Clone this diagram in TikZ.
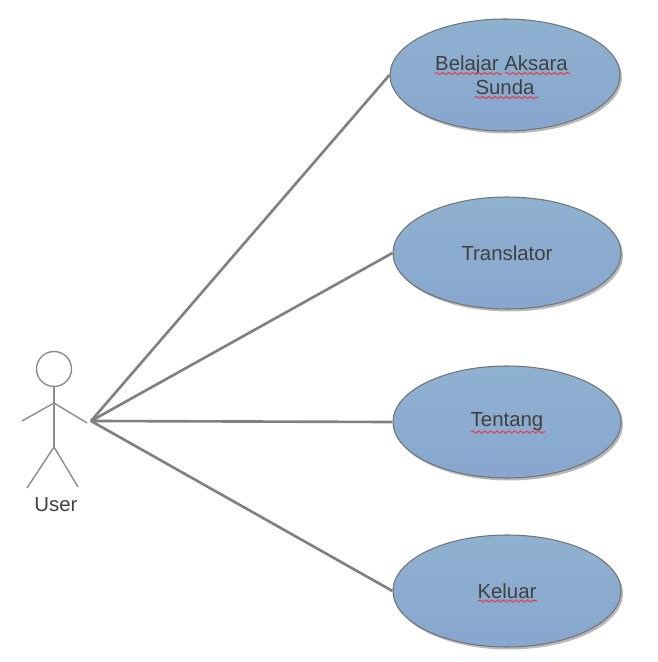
\documentclass[tikz,border=0pt]{standalone}
\usepackage{fontspec}
\setmainfont{Liberation Sans}
\usetikzlibrary{shapes.geometric,shadows,decorations.pathmorphing}
\definecolor{casetop}{HTML}{8FB1D0}
\definecolor{casebot}{HTML}{88A6CE}
\definecolor{spellred}{HTML}{E0404F}
\tikzset{
    usecase/.style={ellipse,draw=black!55,semithick,top color=casetop,bottom color=casebot,
        minimum width=4.6cm,minimum height=2.24cm,inner sep=0pt,align=center,text=black!75,
        font=\fontsize{11.6}{13.5}\selectfont,drop shadow={opacity=0.55,shadow xshift=0.04cm,shadow yshift=-0.05cm}},
    actorline/.style={draw=black!45,line width=0.8pt},
    assoc/.style={draw=black!50,line width=1.5pt},
    squiggle/.style={draw=spellred,line width=0.6pt,decorate,decoration={snake,amplitude=0.6pt,segment length=3.4pt}}
}
\begin{document}
\begin{tikzpicture}
    \useasboundingbox (0,0) rectangle (13.16,13.24);

    \node[usecase] (belajar) at (10.1,11.74) {Belajar Aksara\hspace*{4pt}\\Sunda};
    \node[usecase,minimum width=4.56cm] (translator) at (10.14,8.18) {Translator};
    \node[usecase,minimum width=4.56cm] (tentang) at (10.14,4.80) {\raisebox{-0.8pt}{Tentang}};
    \node[usecase,minimum width=4.56cm] (keluar) at (10.14,1.42) {Keluar};

    % spelling marks under the labels
    \draw[squiggle] ([shift={(-1.4,0.03)}]belajar.center) -- ([shift={(-0.06,0.03)}]belajar.center);
    \draw[squiggle] ([shift={(0,0.03)}]belajar.center) -- ([shift={(1.3,0.03)}]belajar.center);
    \draw[squiggle] ([shift={(-0.6,-0.45)}]belajar.center) -- ([shift={(0.66,-0.45)}]belajar.center);
    \draw[squiggle] ([shift={(-0.72,-0.2)}]tentang.center) -- ([shift={(0.76,-0.2)}]tentang.center);
    \draw[squiggle] ([shift={(-0.58,-0.2)}]keluar.center) -- ([shift={(0.6,-0.2)}]keluar.center);

    % actor
    \node[circle,draw=black!45,line width=0.8pt,minimum size=0.7cm,inner sep=0pt] (head) at (1.08,5.86) {};
    \coordinate (shoulder) at (1.08,5.18);
    \coordinate (hip) at (1.08,4.30);
    \coordinate (handl) at (0.44,4.82);
    \coordinate (handr) at (1.74,4.78);
    \coordinate (footl) at (0.54,3.48);
    \coordinate (footr) at (1.56,3.50);
    \draw[actorline] (head.south) -- (hip);
    \draw[actorline] (handl) -- (shoulder) -- (handr);
    \draw[actorline] (footl) -- (hip) -- (footr);
    \node[text=black!75,font=\fontsize{11.6}{13.5}\selectfont] (user) at (1.12,3.14) {User};

    \coordinate (hub) at (1.82,4.82);
    \draw[assoc] (hub) -- (belajar.west);
    \draw[assoc] (hub) -- (translator.west);
    \draw[assoc] (hub) -- (tentang.west);
    \draw[assoc] (hub) -- (keluar.west);
\end{tikzpicture}
\end{document}
